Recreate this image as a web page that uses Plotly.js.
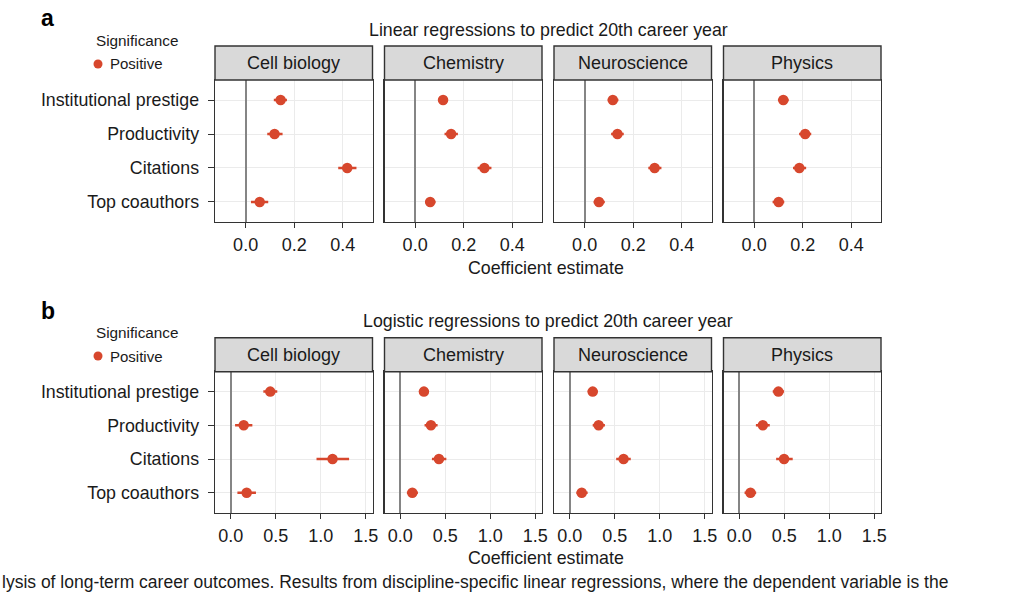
<!DOCTYPE html>
<html>
<head>
<meta charset="utf-8">
<script src="https://cdn.plot.ly/plotly-3.0.1.min.js"></script>
<style>html,body{margin:0;padding:0;background:#fff;}#chart{width:1024px;height:594px;}</style>
</head>
<body>
<div id="chart"></div>
<script>
// ---- Data ----
const variables = ["Institutional prestige", "Productivity", "Citations", "Top coauthors"];
const fields = ["Cell biology", "Chemistry", "Neuroscience", "Physics"];

// Panel a: linear regressions (estimate, lower CI, upper CI)
const linCellEst  = [0.144, 0.119, 0.418, 0.058];
const linCellLo   = [0.116, 0.089, 0.381, 0.022];
const linCellHi   = [0.170, 0.152, 0.456, 0.093];
const linChemEst  = [0.115, 0.148, 0.285, 0.062];
const linChemLo   = [0.094, 0.121, 0.257, 0.041];
const linChemHi   = [0.135, 0.176, 0.314, 0.084];
const linNeuroEst = [0.116, 0.135, 0.288, 0.059];
const linNeuroLo  = [0.095, 0.109, 0.262, 0.037];
const linNeuroHi  = [0.139, 0.161, 0.316, 0.083];
const linPhysEst  = [0.120, 0.210, 0.186, 0.101];
const linPhysLo   = [0.098, 0.185, 0.160, 0.076];
const linPhysHi   = [0.142, 0.235, 0.214, 0.124];

// Panel b: logistic regressions
const logCellEst  = [0.439, 0.144, 1.131, 0.177];
const logCellLo   = [0.362, 0.048, 0.953, 0.074];
const logCellHi   = [0.517, 0.240, 1.315, 0.280];
const logChemEst  = [0.263, 0.341, 0.430, 0.134];
const logChemLo   = [0.215, 0.270, 0.352, 0.074];
const logChemHi   = [0.319, 0.415, 0.512, 0.196];
const logNeuroEst = [0.255, 0.321, 0.598, 0.133];
const logNeuroLo  = [0.200, 0.255, 0.516, 0.074];
const logNeuroHi  = [0.310, 0.391, 0.678, 0.199];
const logPhysEst  = [0.435, 0.262, 0.498, 0.125];
const logPhysLo   = [0.372, 0.185, 0.410, 0.059];
const logPhysHi   = [0.498, 0.339, 0.594, 0.188];

const linTickVals = [0.0, 0.2, 0.4];
const linTickText = ["0.0", "0.2", "0.4"];
const logTickVals = [0.0, 0.5, 1.0, 1.5];
const logTickText = ["0.0", "0.5", "1.0", "1.5"];

const titleA = "Linear regressions to predict 20th career year";
const titleB = "Logistic regressions to predict 20th career year";
const xTitle = "Coefficient estimate";
const legendTitle = "Significance";
const legendItem = "Positive";
const caption = "lysis of long-term career outcomes. Results from discipline-specific linear regressions, where the dependent variable is the";

// ---- Layout geometry (pixels) ----
const W = 1024, H = 594;
const colLeft = [215, 384.5, 554, 723.5];
const colWidth = 157.5;
const panels = [
  {strip: [46, 80], plot: [80, 222], title: titleA, titleY: 30, xTitleY: 268, letter: "a", letterY: 18, legY: 40,
   range: [-0.126, 0.522], tv: linTickVals, tt: linTickText,
   data: [[linCellEst, linCellLo, linCellHi], [linChemEst, linChemLo, linChemHi], [linNeuroEst, linNeuroLo, linNeuroHi], [linPhysEst, linPhysLo, linPhysHi]]},
  {strip: [337.7, 371.7], plot: [371.7, 512.7], title: titleB, titleY: 321, xTitleY: 558, letter: "b", letterY: 311, legY: 332,
   range: [-0.175, 1.575], tv: logTickVals, tt: logTickText,
   data: [[logCellEst, logCellLo, logCellHi], [logChemEst, logChemLo, logChemHi], [logNeuroEst, logNeuroLo, logNeuroHi], [logPhysEst, logPhysLo, logPhysHi]]}
];

const px = x => x / W;
const py = y => 1 - y / H;
const FONT = "Liberation Sans, Arial, Helvetica, sans-serif";
const TXT = "#1a1a1a";
const RED = "#d7472d";

const traces = [];
const layout = {
  width: W, height: H,
  margin: {l: 0, r: 0, t: 0, b: 0},
  paper_bgcolor: "#ffffff", plot_bgcolor: "#ffffff",
  showlegend: false,
  font: {family: FONT, color: TXT, size: 17},
  shapes: [], annotations: []
};

let idx = 0;
panels.forEach((p, pi) => {
  fields.forEach((f, fi) => {
    idx++;
    const xa = "xaxis" + (idx === 1 ? "" : idx);
    const ya = "yaxis" + (idx === 1 ? "" : idx);
    const xr = "x" + (idx === 1 ? "" : idx);
    const yr = "y" + (idx === 1 ? "" : idx);
    const [est, lo, hi] = p.data[fi];
    traces.push({
      type: "scatter", mode: "markers",
      x: est, y: variables,
      xaxis: xr, yaxis: yr,
      marker: {color: RED, size: 10.5},
      error_x: {type: "data", symmetric: false,
        array: est.map((v, i) => hi[i] - v),
        arrayminus: est.map((v, i) => v - lo[i]),
        color: RED, thickness: 2.5, width: 0},
      hoverinfo: "x+y"
    });
    const x0 = colLeft[fi], x1 = colLeft[fi] + colWidth;
    layout[xa] = {
      domain: [px(x0), px(x1)], anchor: yr,
      range: p.range, tickvals: p.tv, ticktext: p.tt,
      showgrid: true, gridcolor: "#ebebeb", gridwidth: 1,
      zeroline: true, zerolinecolor: "#858585", zerolinewidth: 1.8,
      showline: true, mirror: true, linecolor: "#333333", linewidth: 1.4,
      ticks: "outside", ticklen: 5, tickcolor: "#333333", tickwidth: 1,
      tickfont: {family: FONT, size: 18, color: TXT},
      ticklabelstandoff: 1,
      fixedrange: true
    };
    layout[ya] = {
      domain: [py(p.plot[1]), py(p.plot[0])], anchor: xr,
      type: "category", categoryorder: "array", categoryarray: variables,
      range: [3.59, -0.59],
      showgrid: true, gridcolor: "#ebebeb", gridwidth: 1,
      zeroline: false,
      showline: true, mirror: true, linecolor: "#333333", linewidth: 1.4,
      ticks: fi === 0 ? "outside" : "", ticklen: 6, tickcolor: "#333333", tickwidth: 1,
      showticklabels: fi === 0,
      tickfont: {family: FONT, size: 17.8, color: TXT},
      ticklabelstandoff: 5,
      fixedrange: true
    };
    // strip header
    layout.shapes.push({type: "rect", xref: "paper", yref: "paper",
      x0: px(x0), x1: px(x1), y0: py(p.strip[1]), y1: py(p.strip[0]),
      fillcolor: "#d9d9d9", line: {color: "#333333", width: 1.4}, layer: "above"});
    layout.annotations.push({xref: "paper", yref: "paper",
      x: px((x0 + x1) / 2), y: py((p.strip[0] + p.strip[1]) / 2),
      xanchor: "center", yanchor: "middle", showarrow: false,
      text: f, font: {family: FONT, size: 18, color: TXT}});
  });
  // panel title
  layout.annotations.push({xref: "paper", yref: "paper", x: px(548), y: py(p.titleY),
    xanchor: "center", yanchor: "middle", showarrow: false, text: p.title,
    font: {family: FONT, size: 17.8, color: TXT}});
  // x axis title
  layout.annotations.push({xref: "paper", yref: "paper", x: px(546), y: py(p.xTitleY),
    xanchor: "center", yanchor: "middle", showarrow: false, text: xTitle,
    font: {family: FONT, size: 17.8, color: TXT}});
  // panel letter
  layout.annotations.push({xref: "paper", yref: "paper", x: px(39), y: py(p.letterY),
    xanchor: "left", yanchor: "middle", showarrow: false, text: "<b>" + p.letter + "</b>",
    font: {family: FONT, size: 23, color: "#000000"}});
  // legend (title + key)
  layout.annotations.push({xref: "paper", yref: "paper", x: px(94), y: py(p.legY),
    xanchor: "left", yanchor: "middle", showarrow: false, text: legendTitle,
    font: {family: FONT, size: 15.3, color: TXT}});
  layout.annotations.push({xref: "paper", yref: "paper", x: px(108), y: py(p.legY + 24),
    xanchor: "left", yanchor: "middle", showarrow: false, text: legendItem,
    font: {family: FONT, size: 15, color: TXT}});
  layout.shapes.push({type: "circle", xref: "paper", yref: "paper",
    x0: px(93.5), x1: px(102.5), y0: py(p.legY + 24 + 4.5), y1: py(p.legY + 24 - 4.5),
    fillcolor: RED, line: {color: RED, width: 0}});
});

// caption fragment at the bottom edge
layout.annotations.push({xref: "paper", yref: "paper", x: 0, y: 0,
  xanchor: "left", yanchor: "bottom", showarrow: false, text: caption,
  font: {family: FONT, size: 17.5, color: TXT}});

Plotly.newPlot("chart", traces, layout, {displayModeBar: false, staticPlot: true});
</script>
</body>
</html>
